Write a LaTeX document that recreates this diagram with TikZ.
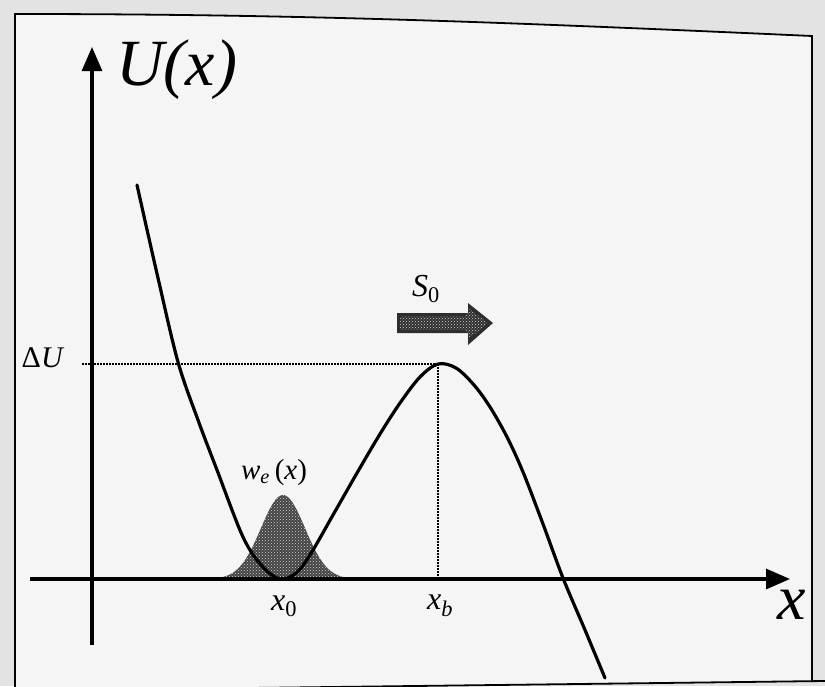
\documentclass[tikz,border=0pt]{standalone}
\usepackage{fontspec}
\setmainfont{Liberation Serif}
\usetikzlibrary{arrows.meta,patterns}
\begin{document}
\begin{tikzpicture}[x=1pt,y=-1pt,
  axis/.style={line width=3.2pt, -{Triangle[length=24pt,width=20pt]}},
  curve/.style={line width=3.2pt, line join=round, line cap=round},
  guide/.style={line width=2pt, dash pattern=on 1.6pt off 1.4pt},
  frame/.style={line width=1.8pt},
  lab/.style={inner sep=0pt},
  stipple/.style={pattern=crosshatch dots, pattern color=white!70!gray}]
% page and frame
\fill[black!11] (0,0) rectangle (825,686);
\useasboundingbox (0,0) rectangle (825,686);
\fill[black!4] (15,690) -- (15,14) .. controls (300,14) and (500,22) .. (812,36) -- (812,682) -- (250,688) -- cycle;
\draw[frame] (15,690) -- (15,14) .. controls (300,14) and (500,22) .. (812,36) -- (812,682);
\draw[frame] (250,688) -- (825,681);
% coordinates
\coordinate (ybot) at (92,645);
\coordinate (ytop) at (92,47);
\coordinate (xl) at (30,579);
\coordinate (xr) at (790,579);
\coordinate (peak) at (438,364);
\coordinate (xbf) at (438,579);
\coordinate (du) at (82,364);
% Gaussian w_e(x)
\fill[black!74] plot[domain=218:348,samples=60] (\x,{579-84*exp(-((\x-283)^2)/968)}) -- cycle;
\fill[stipple] plot[domain=218:348,samples=60] (\x,{579-84*exp(-((\x-283)^2)/968)}) -- cycle;
% guides
\draw[guide] (du) -- (peak);
\draw[guide] (peak) -- (xbf);
% axes
\draw[axis] (ybot) -- (ytop);
\draw[axis] (xl) -- (xr);
% potential curve
\draw[curve] plot[smooth,tension=0.55] coordinates {
 (137,185) (158,278) (178,362) (198,420) (217,470) (243,537) (262,566) (280,579)
 (296,573) (310,555) (333,515) (357,473) (380,434) (400,403) (420,377) (438,364)
 (456,368) (474,385) (490,407) (507,437) (523,472) (543,524) (563,578) (585,630) (605,678)};
% S0 arrow
\path[fill=black!82] (397,313) -- (468,313) -- (468,303) -- (493,323) -- (468,345) -- (468,333) -- (397,333) -- cycle;
\path[stipple] (400,316) -- (466,316) -- (470,309) -- (488,323) -- (470,338) -- (466,330) -- (400,330) -- cycle;
% labels
\node[lab, anchor=west, font=\fontsize{66}{66}\selectfont\itshape] (Ulab) at (116,70) {U(x)};
\node[lab, font=\fontsize{64}{64}\selectfont\itshape] (xlab) at (792,605) {x};
\node[lab, font=\fontsize{32}{32}\selectfont] (x0lab) at (284,606) {\textit{x}\textsubscript{0}};
\node[lab, font=\fontsize{32}{32}\selectfont] (xblab) at (440,606) {\textit{x}\textsubscript{\textit{b}}};
\node[lab, font=\fontsize{30}{30}\selectfont] (dulab) at (43,358) {Δ\textit{U}};
\node[lab, font=\fontsize{32}{32}\selectfont] (s0lab) at (426,289) {\textit{S}\textsubscript{0}};
\node[lab, font=\fontsize{29}{29}\selectfont] (welab) at (274,473) {\textit{w}\textsubscript{\textit{e}}\,(\textit{x})};
\end{tikzpicture}
\end{document}
